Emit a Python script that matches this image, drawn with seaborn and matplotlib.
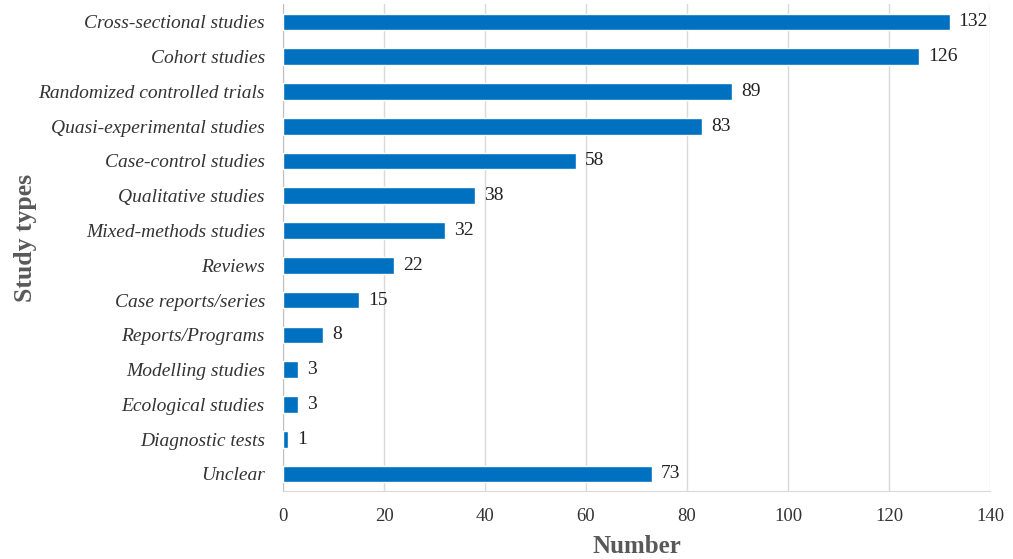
import pandas as pd
import seaborn as sns
import matplotlib.pyplot as plt

study_types = ["Cross-sectional studies", "Cohort studies", "Randomized controlled trials",
               "Quasi-experimental studies", "Case-control studies", "Qualitative studies",
               "Mixed-methods studies", "Reviews", "Case reports/series", "Reports/Programs",
               "Modelling studies", "Ecological studies", "Diagnostic tests", "Unclear"]
counts = [132, 126, 89, 83, 58, 38, 32, 22, 15, 8, 3, 3, 1, 73]

df = pd.DataFrame({"type": study_types, "n": counts})

sns.set_style("white")
plt.rcParams['font.family'] = ['Liberation Serif', 'DejaVu Serif']

fig, ax = plt.subplots(figsize=(10.13, 5.59), dpi=100)
fig.subplots_adjust(left=0.2794, right=0.9773, top=0.992, bottom=0.121)

sns.barplot(data=df, x="n", y="type", color="#0070C0", width=0.48, saturation=1, ax=ax, zorder=3)

for i, v in enumerate(counts):
    ax.text(v + 1.8, i, str(v), va="center", ha="left", fontsize=14, color="#222222")

ax.set_xlim(0, 140)
ax.set_xticks(range(0, 141, 20))
ax.grid(axis="x", color="#d9d9d9", linewidth=1, zorder=0)
ax.tick_params(axis="x", labelsize=13.5, colors="#d9d9d9", labelcolor="#333333", length=5, width=1, pad=7)
ax.tick_params(axis="y", labelsize=14, length=0, labelcolor="#333333", pad=13)
for lab in ax.get_yticklabels():
    lab.set_fontstyle("italic")

for s in ["top", "right"]:
    ax.spines[s].set_visible(False)
ax.spines["left"].set_color("#bfbfbf")
ax.spines["bottom"].set_color("#d9d9d9")

ax.set_xlabel("Number", fontsize=18, fontweight="bold", color="#595959", labelpad=7)
ax.set_ylabel("Study types", fontsize=18.5, fontweight="bold", color="#595959")
ax.yaxis.set_label_coords(-0.348, 0.52)

plt.savefig("out.png", dpi=100)
